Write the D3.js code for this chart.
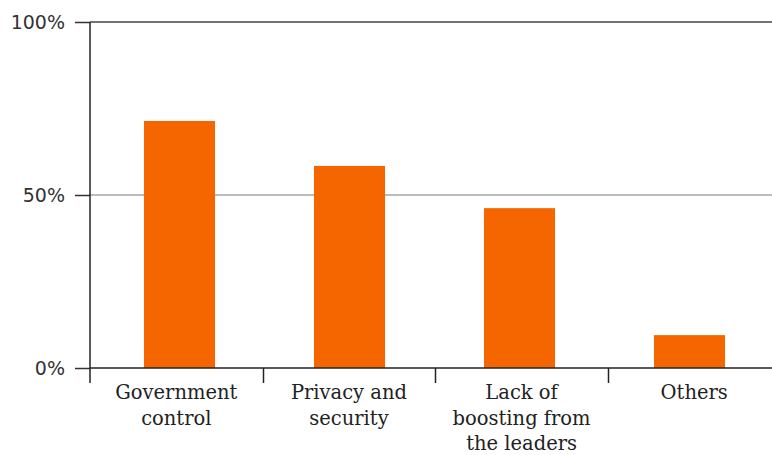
<!DOCTYPE html>
<html>
<head>
<meta charset="utf-8">
<script src="https://cdn.jsdelivr.net/npm/d3@7"></script>
<style>
  html, body { margin: 0; padding: 0; background: #fff; }
  svg { display: block; }
</style>
</head>
<body>
<svg id="chart" width="772" height="455"></svg>
<script>
// Reasons cited, share of respondents (%)
const categories = [
  ["Government", "control"],
  ["Privacy and", "security"],
  ["Lack of", "boosting from", "the leaders"],
  ["Others"]
];
const values = [71.4, 58.4, 46.2, 9.5];
const yTicks = [0, 50, 100];

const svg = d3.select("#chart");
const keys = categories.map(c => c.join(" "));

const y = d3.scaleLinear().domain([0, 100]).range([368, 22]);

// axis bands (tick marks sit on band edges)
const xAxisScale = d3.scaleBand().domain(keys).range([90, 780.5]);
// bar placement
const xBar = d3.scaleBand().domain(keys).range([94.5, 774.5])
  .paddingInner(0.582).paddingOuter(0.291);

// gridline at 50%
svg.append("g").selectAll("line")
  .data(yTicks.filter(t => t === 50))
  .join("line")
  .attr("x1", 90).attr("x2", 772)
  .attr("y1", d => y(d)).attr("y2", d => y(d))
  .attr("stroke", "#a9a4a2").attr("stroke-width", 1.5);

// top frame line at 100%
svg.append("line")
  .attr("x1", 90).attr("x2", 772)
  .attr("y1", y(100)).attr("y2", y(100))
  .attr("stroke", "#444").attr("stroke-width", 1.5);

// bars
svg.append("g").selectAll("rect")
  .data(values)
  .join("rect")
  .attr("x", (d, i) => xBar(keys[i]))
  .attr("width", xBar.bandwidth())
  .attr("y", d => y(d))
  .attr("height", d => y(0) - y(d))
  .attr("fill", "#f56600");

// y axis
const yAxis = svg.append("g").attr("transform", "translate(90,0)")
  .call(d3.axisLeft(y).tickValues(yTicks).tickSize(15).tickPadding(10)
    .tickFormat(d => d + "%"));
yAxis.select(".domain").remove();
yAxis.selectAll(".tick line").attr("stroke", "#333").attr("stroke-width", 1.5);
yAxis.selectAll(".tick text")
  .attr("font-family", "DejaVu Sans")
  .attr("font-size", 19)
  .attr("fill", "#333")
  .attr("dy", "0.35em");

// vertical axis line
svg.append("line")
  .attr("x1", 90).attr("x2", 90)
  .attr("y1", y(100)).attr("y2", 383)
  .attr("stroke", "#222").attr("stroke-width", 1.5);

// x axis baseline
svg.append("line")
  .attr("x1", 90).attr("x2", 772)
  .attr("y1", y(0)).attr("y2", y(0))
  .attr("stroke", "#222").attr("stroke-width", 1.5);

// x tick marks on band edges
svg.append("g").selectAll("line")
  .data(keys.slice(1))
  .join("line")
  .attr("x1", d => Math.round(xAxisScale(d)) + 0.5)
  .attr("x2", d => Math.round(xAxisScale(d)) + 0.5)
  .attr("y1", y(0)).attr("y2", 383)
  .attr("stroke", "#222").attr("stroke-width", 1.5);

// category labels
const labels = svg.append("g").selectAll("text")
  .data(categories)
  .join("text")
  .attr("text-anchor", "middle")
  .attr("font-family", "DejaVu Serif")
  .attr("font-size", 19.5)
  .attr("fill", "#222")
  .attr("transform", (d, i) =>
    `translate(${xAxisScale(keys[i]) + xAxisScale.bandwidth() / 2},399)`);
labels.selectAll("tspan")
  .data(d => d)
  .join("tspan")
  .attr("x", 0)
  .attr("y", (d, i) => i * 25.5)
  .text(d => d);
</script>
</body>
</html>
